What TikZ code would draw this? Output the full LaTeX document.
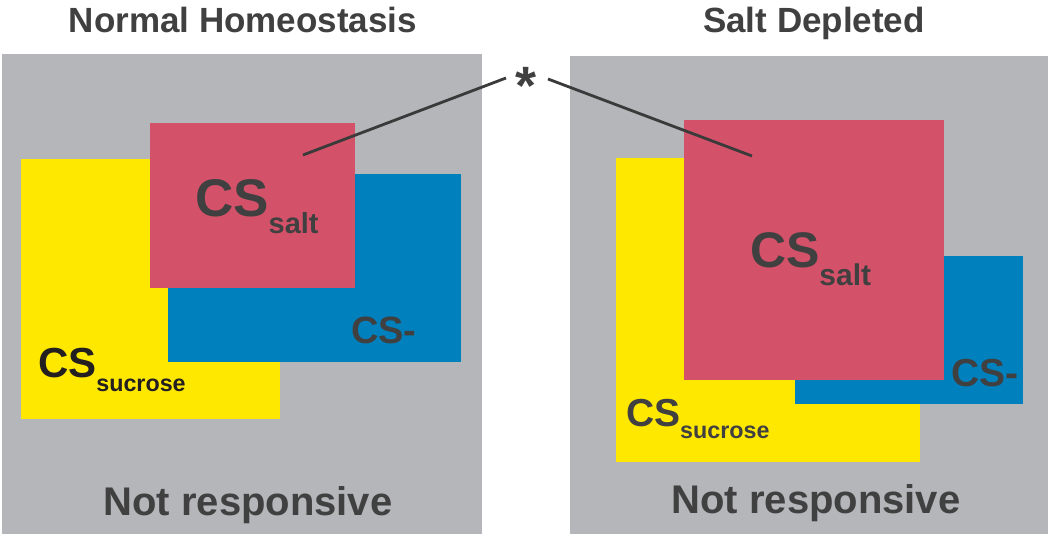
\documentclass[tikz,border=0pt]{standalone}
\usepackage{fontspec}
\setmainfont{Liberation Sans}
\definecolor{panelgray}{HTML}{B5B6B9}
\definecolor{cyel}{HTML}{FFE800}
\definecolor{cred}{HTML}{D35269}
\definecolor{cblue}{HTML}{0080BD}
\definecolor{txtgray}{HTML}{404041}
\definecolor{txtdark}{HTML}{231F20}
\definecolor{linegray}{HTML}{3A3A3A}
\newcommand{\fs}[1]{\fontsize{#1}{#1}\selectfont}
\newcommand{\csub}[4]{\fs{#1}CS\raisebox{-#4pt}{\fs{#2}#3}}
\tikzset{
  panel/.style={fill=panelgray},
  lbl/.style={inner sep=0pt, outer sep=0pt, anchor=base west, font=\bfseries, text=txtgray},
  ttl/.style={inner sep=0pt, outer sep=0pt, anchor=base, font=\bfseries, text=txtgray},
  pointer/.style={draw=linegray, line width=2.8pt}
}
\begin{document}
\begin{tikzpicture}[x=1pt,y=-1pt]
\useasboundingbox (0,0) rectangle (1050,536);
\fill[white] (0,0) rectangle (1050,536);
% panels
\fill[panel] (2,54) rectangle (482,534);
\fill[panel] (570,56) rectangle (1048,534);
% titles
\node[ttl] (t1) at (243,32) {\fs{35}Normal Homeostasis};
\node[ttl] (t2) at (814,32) {\fs{35}Salt Depleted};
% left boxes
\fill[cyel]  (21,159) rectangle (280,419);
\fill[cblue] (168,174) rectangle (461,362);
\fill[cred]  (150,123) rectangle (355,288);
% right boxes
\fill[cyel]  (616,158) rectangle (920,462);
\fill[cblue] (795,256) rectangle (1023,404);
\fill[cred]  (684,120) rectangle (944,380);
% labels left
\node[lbl] (lsalt) at (195,216) {\csub{53}{29}{salt}{17}};
\node[lbl] (lminus) at (351,343) {\fs{38}CS-};
\node[lbl, text=txtdark] (lsuc) at (38,377) {\csub{42}{23.3}{sucrose}{14}};
\node[ttl] (lnot) at (248,515) {\fs{40}Not responsive};
% labels right
\node[lbl] (rsalt) at (750,267) {\csub{50}{30}{salt}{18}};
\node[lbl] (rminus) at (951,386) {\fs{39}CS-};
\node[lbl] (rsuc) at (626,426) {\csub{39}{23.3}{sucrose}{12}};
\node[ttl] (rnot) at (816,513) {\fs{40}Not responsive};
% asterisk and pointers
\node[ttl] (star) at (526,104) {\fs{54}*};
\coordinate (aL) at (506,78);
\coordinate (aR) at (548,79);
\coordinate (tL) at (303,155);
\coordinate (tR) at (752,156);
\draw[pointer] (aL) -- (tL);
\draw[pointer] (aR) -- (tR);
\end{tikzpicture}
\end{document}
